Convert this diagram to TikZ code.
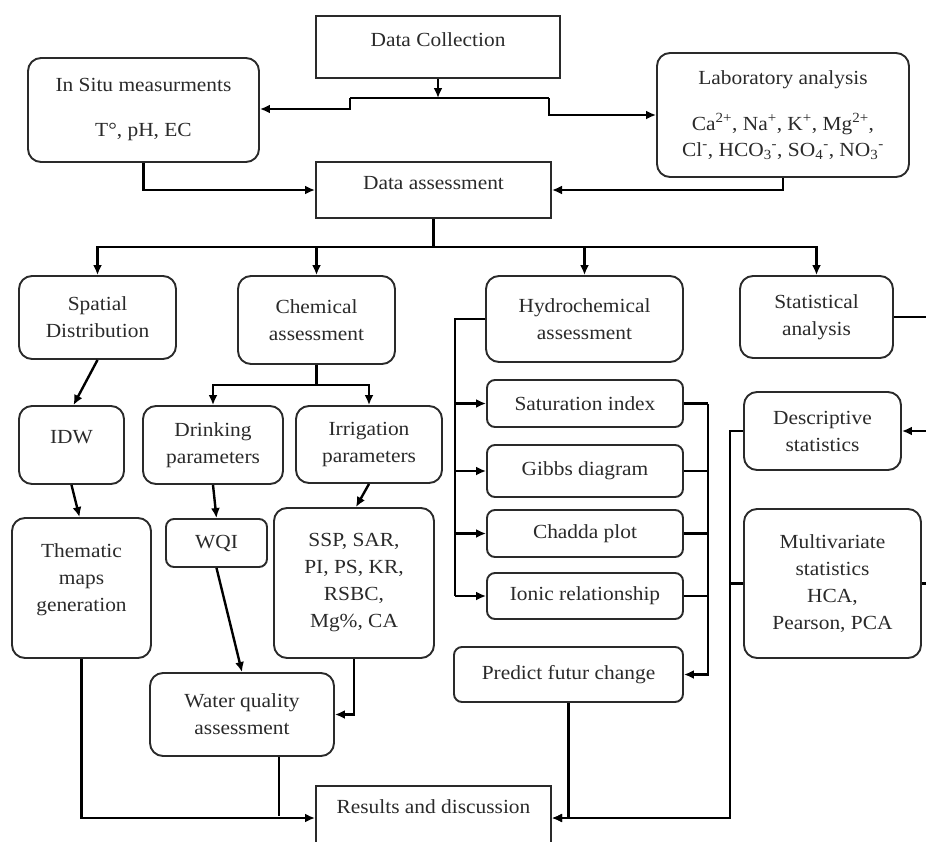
\documentclass[tikz,border=0pt]{standalone}
\usepackage{fontspec}
\setmainfont{Liberation Serif}[FakeStretch=1.07]
\usetikzlibrary{arrows.meta}
\definecolor{ink}{HTML}{2A2A2A}
\definecolor{txt}{HTML}{2A2A2A}
\begin{document}
\begin{tikzpicture}[x=1pt,y=-1pt,
  every node/.style={font=\fontsize{20}{27}\selectfont, text=txt, align=center, inner sep=0pt},
  rbox/.style={draw=ink, line width=1.9pt, rounded corners=13pt},
  sbox/.style={draw=ink, line width=1.9pt, rounded corners=8pt},
  pbox/.style={draw=ink, line width=2pt},
  conn/.style={draw=black, line width=2.4pt},
  arr/.style={conn, -{Latex[length=10pt,width=9pt]}},
]
\useasboundingbox (0,0) rectangle (926,841);

% top
\node[pbox, minimum width=244pt, minimum height=62pt] (dc) at (438,47) {};
\node (dct) at (438,40) {Data Collection};
\node[rbox, minimum width=231pt, minimum height=104pt] (insitu) at (143.5,110)
  {In Situ measurments\\[18pt]T°, pH, EC};
\node[rbox, minimum width=252pt, minimum height=124pt] (lab) at (783,115)
  {Laboratory analysis\\[19pt]Ca\textsuperscript{2+}, Na\textsuperscript{+}, K\textsuperscript{+}, Mg\textsuperscript{2+},\\[-1pt]
   Cl\textsuperscript{-}, HCO\textsubscript{3}\textsuperscript{-}, SO\textsubscript{4}\textsuperscript{-}, NO\textsubscript{3}\textsuperscript{-}};
\node[pbox, minimum width=235pt, minimum height=56pt] (da) at (433.5,190) {};
\node (dat) at (433.5,183) {Data assessment};

% second row
\node[rbox, minimum width=157pt, minimum height=83pt] (spatial) at (97.5,317.5) {Spatial\\Distribution};
\node[rbox, minimum width=157pt, minimum height=88pt] (chem) at (316.5,320) {Chemical\\assessment};
\node[rbox, minimum width=197pt, minimum height=86pt] (hydro) at (584.5,319) {Hydrochemical\\assessment};
\node[rbox, minimum width=153pt, minimum height=82pt] (stat) at (816.5,317) {Statistical\\analysis};

% left column
\node[rbox, minimum width=105pt, minimum height=78pt] (idw) at (71.5,445) {};
\node (idwt) at (71.5,437) {IDW};
\node[rbox, minimum width=139pt, minimum height=140pt] (them) at (81.5,588) {};
\node (themt) at (81.5,580) {Thematic\\maps\\generation};

% chemical column
\node[rbox, minimum width=140pt, minimum height=78pt] (drink) at (213,445) {Drinking\\parameters};
\node[rbox, minimum width=146pt, minimum height=77pt] (irr) at (369,444.5) {Irrigation\\parameters};
\node[sbox, minimum width=101pt, minimum height=48pt] (wqi) at (216.5,543) {WQI};
\node[rbox, minimum width=160pt, minimum height=150pt] (ssp) at (354,583) {SSP, SAR,\\PI, PS, KR,\\RSBC,\\Mg\%, CA};
\node[rbox, minimum width=184pt, minimum height=83pt] (wq) at (242,714.5) {Water quality\\assessment};

% hydrochemical column
\node[sbox, minimum width=196pt, minimum height=47pt] (sat) at (585,403.5) {Saturation index};
\node[sbox, minimum width=196pt, minimum height=52pt] (gibbs) at (585,471) {Gibbs diagram};
\node[sbox, minimum width=196pt, minimum height=47pt] (chadda) at (585,533.5) {Chadda plot};
\node[sbox, minimum width=196pt, minimum height=46pt] (ionic) at (585,596) {Ionic relationship};
\node[sbox, minimum width=229pt, minimum height=55pt] (predict) at (568.5,674.5) {Predict futur change};

% statistics column
\node[rbox, minimum width=157pt, minimum height=78pt] (desc) at (822.5,431) {Descriptive\\statistics};
\node[rbox, minimum width=177pt, minimum height=149pt] (multi) at (832.5,583.5) {Multivariate\\statistics\\HCA,\\Pearson, PCA};

% results
\node[pbox, minimum width=235pt, minimum height=64pt] (res) at (433.5,818) {};
\node (rest) at (433.5,807) {Results and discussion};

% ---- connectors ----
\coordinate (j0) at (438,98);
\coordinate (jl) at (350,98);
\coordinate (jr) at (549,98);
\draw[arr] (dc.south) -- (j0);
\draw[conn] (jl) -- (jr);
\draw[arr] (jl) |- (insitu.east |- 0,109);
\draw[arr] (jr) |- (lab.west);
\draw[arr] (insitu.south) |- (da.west);
\draw[arr] (lab.south) |- (da.east);

\coordinate (bus) at (433.5,247);
\draw[conn] (da.south) -- (bus);
\draw[arr] (bus) -| (spatial.north);
\draw[arr] (bus) -| (chem.north);
\draw[arr] (bus) -| (hydro.north);
\draw[arr] (bus) -| (stat.north);

\draw[arr] (spatial.south) -- ([xshift=2pt]idw.north);
\draw[arr] (idw.south) -- ([xshift=-2pt]them.north);

\coordinate (cb) at (316.5,385);
\draw[conn] (chem.south) -- (cb);
\draw[arr] (cb) -| (drink.north);
\draw[arr] (cb) -| (irr.north);
\draw[arr] (drink.south) -- (wqi.north);
\draw[arr] (irr.south) -- ([xshift=2pt]ssp.north);
\draw[arr] (wqi.south) -- (wq.north);
\draw[arr] (ssp.south) |- (wq.east);

\coordinate (wqj) at (279,816);
\draw[arr] (them.south) |- (res.west);
\draw[conn] (wq.south -| wqj) -- (wqj);

% hydro fan
\coordinate (hl) at (455,319);
\draw[conn] (hydro.west) -- (hl) -- (hl |- ionic.west);
\draw[arr] (hl |- sat.west) -- (sat.west);
\draw[arr] (hl |- gibbs.west) -- (gibbs.west);
\draw[arr] (hl |- chadda.west) -- (chadda.west);
\draw[arr] (hl |- ionic.west) -- (ionic.west);
\coordinate (hr) at (708,403.5);
\draw[conn] (sat.east) -- (hr);
\draw[conn] (gibbs.east) -- (hr |- gibbs.east);
\draw[conn] (chadda.east) -- (hr |- chadda.east);
\draw[conn] (ionic.east) -- (hr |- ionic.east);
\draw[arr] (hr) |- (predict.east);
\draw[arr] (predict.south) |- (res.east);

% statistics
\coordinate (sr) at (932,317);
\draw[arr] (stat.east) -- (sr) |- (desc.east);
\draw[conn] (multi.east) -- (sr |- multi.east);
\coordinate (sl) at (730,431);
\draw[arr] (desc.west) -- (sl) |- (res.east);
\draw[conn] (multi.west) -- (sl |- multi.west);
\end{tikzpicture}
\end{document}
